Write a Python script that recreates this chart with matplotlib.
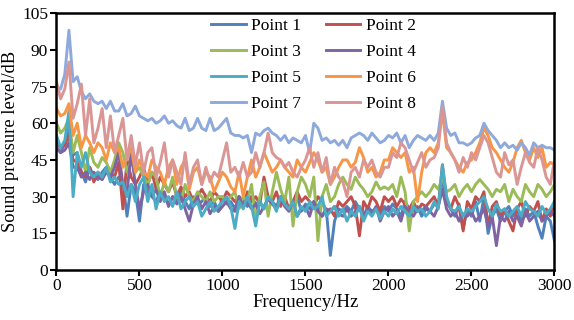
import numpy as np
from matplotlib import pyplot as plt

freq = np.arange(0, 3001, 25)

p1 = [50, 48, 52, 58, 47, 48, 40, 36, 42, 38,
      37, 40, 42, 38, 35, 38, 36, 22, 35, 32,
      20, 35, 32, 30, 28, 32, 30, 27, 30, 28,
      32, 28, 25, 30, 27, 28, 30, 26, 28, 24,
      30, 27, 28, 25, 30, 28, 26, 30, 27, 28,
      25, 30, 28, 26, 30, 27, 25, 28, 30, 24,
      27, 25, 28, 26, 22, 25, 6, 20, 25, 24,
      26, 24, 28, 25, 22, 26, 24, 25, 22, 26,
      24, 27, 25, 22, 28, 25, 24, 26, 22, 25,
      24, 27, 26, 38, 28, 25, 22, 27, 17, 25,
      22, 28, 20, 30, 15, 22, 25, 20, 24, 26,
      22, 25, 20, 25, 22, 24, 18, 13, 22, 20,
      12]
p2 = [52, 50, 51, 55, 45, 44, 40, 38, 42, 36,
      40, 37, 42, 40, 38, 44, 25, 45, 38, 35,
      38, 42, 35, 40, 33, 38, 35, 32, 36, 30,
      34, 30, 32, 28, 30, 33, 30, 28, 32, 30,
      28, 32, 30, 28, 30, 26, 32, 28, 30, 27,
      38, 30, 28, 32, 26, 30, 25, 28, 32, 28,
      30, 28, 26, 30, 28, 24, 25, 22, 28, 26,
      28, 30, 26, 14, 28, 25, 30, 28, 24, 30,
      28, 30, 26, 29, 27, 25, 28, 24, 27, 26,
      28, 30, 26, 43, 28, 25, 30, 26, 16, 28,
      25, 30, 28, 32, 18, 26, 28, 22, 25, 20,
      16, 25, 28, 22, 26, 24, 28, 20, 25, 22,
      28]
p3 = [60, 56, 58, 62, 48, 55, 48, 40, 50, 44,
      42, 46, 44, 40, 45, 52, 48, 40, 45, 40,
      42, 38, 35, 40, 38, 30, 36, 32, 38, 30,
      28, 35, 30, 28, 32, 30, 28, 32, 28, 30,
      30, 28, 30, 32, 25, 30, 28, 35, 20, 30,
      36, 22, 32, 40, 33, 28, 38, 18, 32, 38,
      35, 30, 38, 12, 30, 35, 28, 30, 35, 38,
      35, 33, 38, 35, 33, 30, 32, 36, 33, 34,
      33, 35, 30, 38, 32, 16, 28, 30, 32, 30,
      32, 35, 33, 38, 32, 33, 35, 30, 33, 35,
      32, 35, 37, 35, 33, 30, 33, 32, 35, 28,
      33, 30, 28, 35, 32, 30, 35, 33, 30, 32,
      35]
p4 = [50, 48, 49, 52, 42, 42, 38, 40, 37, 40,
      38, 37, 40, 38, 42, 48, 35, 32, 48, 35,
      25, 32, 35, 30, 33, 28, 32, 26, 30, 27,
      30, 25, 20, 27, 30, 25, 28, 23, 26, 24,
      26, 28, 25, 24, 30, 26, 28, 25, 27, 23,
      26, 29, 27, 25, 30, 26, 24, 28, 22, 25,
      26, 22, 28, 24, 22, 25, 24, 26, 23, 22,
      25, 22, 24, 26, 22, 25, 23, 26, 20, 24,
      26, 22, 24, 20, 26, 24, 22, 25, 24, 26,
      24, 22, 26, 33, 25, 22, 24, 20, 23, 22,
      24, 20, 22, 25, 18, 22, 10, 22, 20, 24,
      20, 22, 18, 24, 20, 22, 24, 20, 22, 24,
      22]
p5 = [55, 50, 53, 65, 30, 48, 42, 48, 40, 38,
      40, 38, 42, 36, 38, 35, 36, 30, 35, 28,
      35, 38, 28, 35, 25, 32, 28, 30, 26, 32,
      25, 28, 30, 26, 28, 22, 25, 28, 24, 26,
      28, 30, 26, 17, 28, 25, 30, 26, 18, 28,
      25, 30, 28, 24, 30, 27, 25, 28, 22, 26,
      24, 28, 25, 26, 30, 22, 24, 26, 22, 25,
      20, 24, 22, 26, 20, 24, 22, 25, 21, 24,
      22, 25, 23, 26, 24, 22, 26, 24, 25, 22,
      24, 28, 25, 43, 30, 25, 24, 26, 22, 25,
      24, 26, 28, 30, 25, 22, 27, 24, 25, 22,
      24, 26, 22, 28, 25, 24, 22, 26, 23, 25,
      28]
p6 = [66, 63, 64, 68, 55, 60, 50, 55, 52, 48,
      52, 50, 45, 52, 48, 50, 42, 46, 50, 40,
      45, 40, 38, 45, 42, 40, 35, 42, 45, 35,
      42, 45, 33, 40, 42, 35, 40, 38, 32, 36,
      40, 38, 34, 32, 40, 30, 38, 45, 38, 42,
      48, 44, 40, 42, 45, 42, 40, 38, 45, 42,
      40, 44, 48, 45, 40, 42, 35, 38, 42, 45,
      45, 42, 44, 50, 46, 40, 42, 38, 40, 45,
      45, 50, 48, 46, 48, 40, 42, 28, 40, 48,
      50, 48, 52, 65, 50, 48, 45, 42, 40, 44,
      45, 48, 52, 58, 55, 50, 48, 45, 42, 40,
      44, 50, 53, 48, 45, 50, 46, 50, 42, 44,
      43]
p7 = [75, 74, 80, 98, 77, 79, 73, 70, 72, 69,
      68, 69, 66, 69, 65, 65, 68, 63, 64, 67,
      63, 62, 61, 62, 60, 61, 63, 60, 61, 59,
      58, 62, 57, 58, 62, 58, 57, 62, 57, 58,
      60, 62, 56, 55, 55, 54, 55, 48, 56, 55,
      57, 58, 56, 55, 53, 55, 52, 54, 53, 52,
      55, 48, 60, 58, 53, 54, 52, 53, 51, 53,
      50, 54, 55, 56, 55, 53, 56, 54, 52, 53,
      55, 54, 56, 52, 55, 50, 53, 55, 54, 53,
      55, 53, 56, 69, 58, 55, 56, 52, 52, 51,
      52, 54, 55, 60, 57, 55, 53, 50, 52, 50,
      51, 49, 52, 50, 47, 52, 50, 51, 50, 50,
      49]
p8 = [77, 70, 74, 85, 62, 68, 76, 55, 70, 52,
      58, 66, 50, 63, 48, 55, 62, 45, 55, 43,
      52, 40, 48, 50, 38, 44, 52, 38, 45, 40,
      35, 48, 35, 42, 45, 35, 42, 36, 40, 38,
      45, 52, 40, 42, 38, 44, 38, 40, 48, 42,
      48, 56, 48, 46, 45, 42, 44, 40, 38, 42,
      45, 50, 42, 48, 40, 46, 35, 42, 38, 36,
      30, 40, 42, 38, 45, 42, 45, 40, 38, 42,
      42, 48, 46, 52, 50, 45, 40, 44, 48, 42,
      45, 46, 50, 67, 52, 48, 45, 40, 46, 42,
      48, 45, 50, 55, 52, 46, 40, 38, 48, 43,
      45, 35, 42, 48, 44, 42, 50, 45, 38, 35,
      45]

series = [p1, p2, p3, p4, p5, p6, p7, p8]
names = ['Point 1', 'Point 2', 'Point 3', 'Point 4',
         'Point 5', 'Point 6', 'Point 7', 'Point 8']
colors = ['#4F81BD', '#C0504D', '#9BBB59', '#8064A2',
          '#4BACC6', '#F79646', '#8EA9DB', '#DA9694']

plt.rcParams['font.family'] = ['Liberation Serif', 'DejaVu Serif']

fig = plt.figure(figsize=(5.74, 3.2), dpi=100)
ax = fig.add_axes([0.0984, 0.156, 0.8676, 0.803])

lines = []
for y, name, c in zip(series, names, colors):
    ln, = ax.plot(freq, y, color=c, lw=2.1, label=name)
    lines.append(ln)

ax.set_xlim(0, 3000)
ax.set_ylim(0, 105)
ax.set_xticks(range(0, 3001, 500))
ax.set_yticks(range(0, 106, 15))
ax.tick_params(direction='out', length=4, width=1.5, labelsize=12.5, pad=2)
for s in ax.spines.values():
    s.set_linewidth(1.8)
ax.set_xlabel('Frequency/Hz', fontsize=13.5, labelpad=0)
ax.set_ylabel('Sound pressure level/dB', fontsize=13.3, labelpad=2)

# legend fills column-wise: odd points left, even points right
order = [0, 2, 4, 6, 1, 3, 5, 7]
leg = ax.legend([lines[i] for i in order], [names[i] for i in order],
                ncol=2, loc='upper center', bbox_to_anchor=(0.516, 1.03),
                fontsize=12.5, frameon=True, edgecolor='none', framealpha=1,
                handlelength=2.0, handletextpad=0.3, columnspacing=1.4,
                labelspacing=0.58, borderpad=0.2)
leg.set_zorder(2.2)  # keep the top spine visible over the legend box

fig.savefig('out.png', dpi=100)
